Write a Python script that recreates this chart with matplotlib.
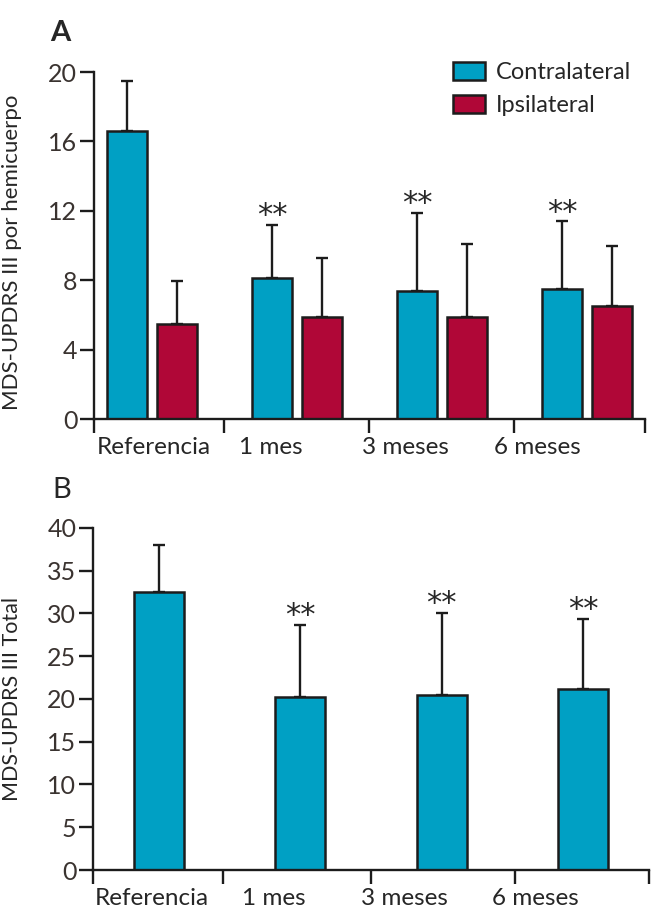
import numpy as np
import matplotlib
matplotlib.use("Agg")
import matplotlib.pyplot as plt
from matplotlib.patches import Patch

plt.rcParams["font.family"] = ["Lato", "DejaVu Sans"]

# ---- data -----------------------------------------------------------------
categories = ["Referencia", "1 mes", "3 meses", "6 meses"]

# Panel A: MDS-UPDRS III per hemibody (mean, mean + SD)
contra_mean = [16.6, 8.1, 7.4, 7.5]
contra_top = [19.5, 11.2, 11.9, 11.4]
ipsi_mean = [5.5, 5.9, 5.9, 6.5]
ipsi_top = [7.95, 9.3, 10.1, 10.0]
contra_sig = ["", "**", "**", "**"]

# Panel B: MDS-UPDRS III total
total_mean = [32.5, 20.2, 20.5, 21.2]
total_top = [38.0, 28.7, 30.1, 29.4]
total_sig = ["", "**", "**", "**"]

BLUE = "#00a0c4"
RED = "#b00737"
EDGE = "#1c1c1c"
TXT = "#262626"


def style_axis(ax, xlim, sep_ticks, label_pos):
    for s in ("top", "right"):
        ax.spines[s].set_visible(False)
    for s in ("left", "bottom"):
        ax.spines[s].set_linewidth(1.7)
        ax.spines[s].set_color(EDGE)
    ax.set_xlim(*xlim)
    ax.set_xticks(sep_ticks)
    ax.set_xticklabels([])
    ax.set_xticks(label_pos, minor=True)
    ax.set_xticklabels(categories, minor=True, fontsize=17.5, color=TXT)
    ax.tick_params(axis="x", which="major", length=10, width=1.7, color=EDGE)
    ax.tick_params(axis="x", which="minor", length=0, pad=13)
    ax.tick_params(axis="y", length=10, width=1.7, color=EDGE,
                   labelsize=18, labelcolor="#3a3330", pad=2)


def bars(ax, x, mean, top, width, color):
    ax.bar(x, mean, width, color=color, edgecolor=EDGE, linewidth=1.8, zorder=2)
    err = np.array(top) - np.array(mean)
    ax.errorbar(x, mean, yerr=[np.zeros_like(err), err], fmt="none",
                ecolor=EDGE, elinewidth=1.7, capsize=4.5, capthick=1.7, zorder=1)


def stars(ax, x, top, marks, dy):
    for xi, ti, m in zip(x, top, marks):
        if m:
            ax.annotate(m, (xi, ti), xytext=(0, dy), textcoords="offset points",
                        ha="center", va="bottom", fontsize=22, color=TXT,
                        family="DejaVu Sans")


fig = plt.figure(figsize=(6.62, 9.08), dpi=100)

# ---- panel A --------------------------------------------------------------
axA = fig.add_axes([0.1420, 0.5385, 0.8323, 0.3822])
xg = np.arange(len(categories))
off, w = 0.172, 0.27
bars(axA, xg - off, contra_mean, contra_top, w, BLUE)
bars(axA, xg + off, ipsi_mean, ipsi_top, w, RED)
stars(axA, xg - off, contra_top, contra_sig, -4)
axA.set_ylim(0, 20)
axA.set_yticks([0, 4, 8, 12, 16, 20])
style_axis(axA, (-0.40, 3.40), [-0.40, 0.5, 1.5, 2.5, 3.40],
           [0.01, 0.82, 1.745, 2.655])
axA.set_ylabel("MDS-UPDRS III por hemicuerpo", fontsize=16, color=TXT)
axA.yaxis.set_label_coords(-0.131, 0.48)
axA.legend(handles=[Patch(facecolor=BLUE, edgecolor=EDGE, linewidth=1.8, label="Contralateral"),
                    Patch(facecolor=RED, edgecolor=EDGE, linewidth=1.8, label="Ipsilateral")],
           loc="upper left", bbox_to_anchor=(453 / 662, 1 - 62 / 908),
           bbox_transform=fig.transFigure, frameon=False, fontsize=17,
           handlelength=1.35, handleheight=0.8, handletextpad=0.45,
           labelspacing=0.5, borderpad=0, borderaxespad=0, labelcolor=TXT)
fig.text(50 / 662, 1 - 33 / 908, "A", fontsize=21, color=TXT, va="center",
         fontweight="bold")

# ---- panel B --------------------------------------------------------------
axB = fig.add_axes([0.1405, 0.04185, 0.8399, 0.3767])
bars(axB, xg, total_mean, total_top, 0.354, BLUE)
stars(axB, xg, total_top, total_sig, -4)
axB.set_ylim(0, 40)
axB.set_yticks(np.arange(0, 41, 5))
style_axis(axB, (-0.467, 3.467), [-0.467, 0.45, 1.5, 2.52, 3.467],
           [-0.05, 0.814, 1.734, 2.66])
axB.set_ylabel("MDS-UPDRS III Total", fontsize=15.5, color=TXT)
axB.yaxis.set_label_coords(-0.128, 0.5)
fig.text(52 / 662, 1 - 490 / 908, "B", fontsize=21, color=TXT, va="center")

fig.savefig("out.png", dpi=100)
